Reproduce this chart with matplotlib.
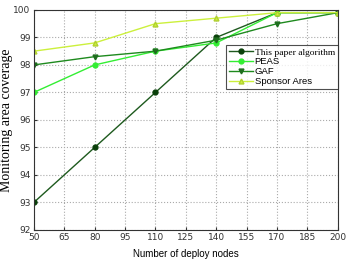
import matplotlib
matplotlib.use("Agg")
import matplotlib.pyplot as plt

nodes = [50, 80, 110, 140, 170, 200]
this_paper = [93, 95, 97, 99, 99.9, 99.9]
peas = [97, 98, 98.5, 98.8, 99.9, 99.9]
gaf = [98, 98.3, 98.5, 98.9, 99.5, 99.9]
sponsor = [98.5, 98.8, 99.5, 99.7, 99.9, 99.9]

xticks = [50, 65, 80, 95, 110, 125, 140, 155, 170, 185, 200]
yticks = [92, 93, 94, 95, 96, 97, 98, 99, 100]

fig = plt.figure(figsize=(3.49, 2.68), dpi=100)
ax = fig.add_axes([0.097, 0.142, 0.871, 0.821])

ax.plot(nodes, this_paper, color="#1e5a1e", marker="o", ms=3.5, lw=1.0,
        mfc="#0a400a", mec="#0a400a", label="This paper algorithm")
ax.plot(nodes, peas, color="#33ee33", marker="o", ms=3.5, lw=1.0,
        mfc="#33ee33", mec="#33ee33", label="PEAS")
ax.plot(nodes, gaf, color="#1e8a1e", marker="v", ms=3.5, lw=1.0,
        mfc="#1e6e1e", mec="#1e6e1e", label="GAF")
ax.plot(nodes, sponsor, color="#ccf03c", marker="^", ms=3.5, lw=1.0,
        mfc="#ccf03c", mec="#b0d030", label="Sponsor Ares")

ax.set_xlim(50, 200)
ax.set_ylim(92, 100)
ax.set_xticks(xticks)
ax.set_yticks(yticks)
ax.tick_params(direction="in", labelsize=6.5, length=2.5, colors="#333333", pad=2.5)
ax.grid(True, linestyle=":", color="#aaaaaa", lw=0.8)
for s in ax.spines.values():
    s.set_color("#333333")
    s.set_linewidth(0.8)

ax.set_xlabel("Number of deploy nodes", fontsize=7, family="Liberation Sans", labelpad=5)
ax.set_ylabel("Monitoring area coverage", fontsize=10, family="Liberation Serif", labelpad=0)

leg = ax.legend(loc="center right", bbox_to_anchor=(1.0, 0.74), fontsize=6.8,
                frameon=True, fancybox=False, handlelength=2.5, handletextpad=0.2,
                borderpad=0.3, labelspacing=0.1, borderaxespad=0)
leg.get_frame().set_edgecolor("#222222")
leg.get_frame().set_linewidth(0.8)
for t, fam in zip(leg.get_texts(), ["Liberation Serif", "Liberation Sans", "Liberation Sans", "Liberation Sans"]):
    t.set_family(fam)

fig.savefig("out.png", dpi=100)
